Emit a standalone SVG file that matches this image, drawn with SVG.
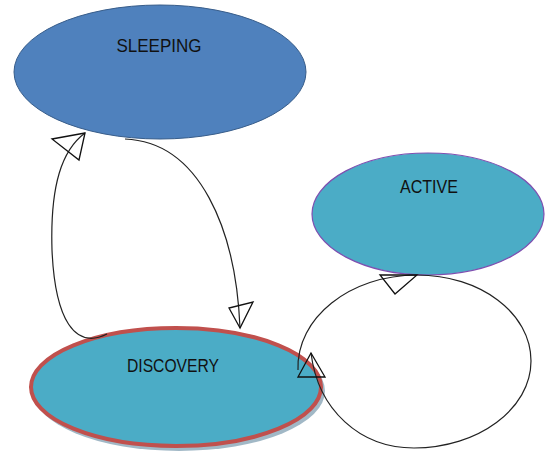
<svg xmlns="http://www.w3.org/2000/svg" width="545" height="453" viewBox="0 0 545 453">
<style>
.lbl{font-family:"Liberation Sans",Arial,sans-serif;font-size:19px;fill:#111;text-anchor:middle}
.conn{fill:none;stroke:#222;stroke-width:1.2}
.ah{fill:none;stroke:#111;stroke-width:1.3;stroke-linejoin:miter}
</style>
<rect width="545" height="453" fill="#fff"/>
<g id="node-sleeping">
<ellipse cx="160" cy="72" rx="146" ry="67" fill="#4f81bd" stroke="#385d8a" stroke-width="1"/>
<text class="lbl" x="159" y="52" textLength="85" lengthAdjust="spacingAndGlyphs">SLEEPING</text>
</g>
<g id="node-active">
<ellipse cx="428" cy="214" rx="116" ry="61" fill="#4bacc6" stroke="#7f4fb0" stroke-width="1.2"/>
<text class="lbl" x="429" y="193" textLength="58" lengthAdjust="spacingAndGlyphs">ACTIVE</text>
</g>
<g id="node-discovery">
<ellipse cx="179" cy="391" rx="146" ry="60" fill="#8aa6b8" opacity="0.8"/>
<ellipse cx="176" cy="387" rx="145" ry="59" fill="#4bacc6" stroke="#c0504d" stroke-width="4"/>
<text class="lbl" x="173" y="372" textLength="92" lengthAdjust="spacingAndGlyphs">DISCOVERY</text>
</g>
<g id="connectors">
<path class="conn" d="M107 334 C75 350 55 320 52 250 C50 185 62 150 85 133"/>
<polygon class="ah" points="85,133 52,139 79,160"/>
<path class="conn" d="M125 139 C200 142 236 230 240 328"/>
<polygon class="ah" points="240,328 229,308 253,302"/>
<path class="conn" d="M298 370 C296 318 350 275 417 275"/>
<polygon class="ah" points="417,275 380,275 395,294"/>
<path class="conn" d="M417 275 C480 275 531 313 531 361 C531 409 478 448 414 448 C360 448 318 410 311 353"/>
<polygon class="ah" points="311,353 298,377 325,377"/>
</g>
</svg>
